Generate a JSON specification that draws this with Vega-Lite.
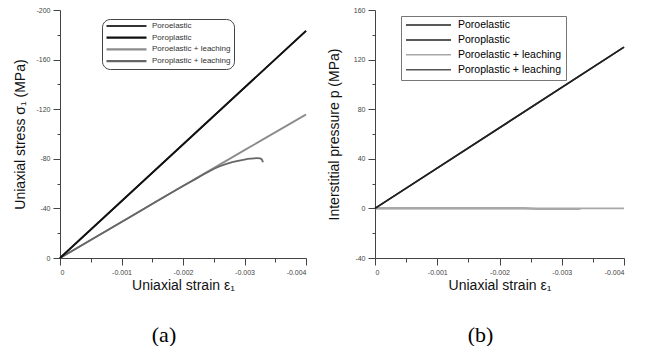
{
  "$schema": "https://vega.github.io/schema/vega-lite/v6.json",
  "background": "white",
  "padding": {"left": 13, "top": 6, "right": 0, "bottom": 0},
  "datasets": {
    "stress": [
      {"strain": 0, "value": 0, "series": "Poroelastic + leaching"},
      {"strain": -0.001, "value": -29, "series": "Poroelastic + leaching"},
      {"strain": -0.002, "value": -58, "series": "Poroelastic + leaching"},
      {"strain": -0.003, "value": -87, "series": "Poroelastic + leaching"},
      {"strain": -0.004, "value": -115.7, "series": "Poroelastic + leaching"},
      {"strain": 0, "value": 0, "series": "Poroplastic + leaching"},
      {"strain": -0.001, "value": -29, "series": "Poroplastic + leaching"},
      {"strain": -0.002, "value": -58, "series": "Poroplastic + leaching"},
      {"strain": -0.0022, "value": -63.6, "series": "Poroplastic + leaching"},
      {"strain": -0.0024, "value": -69.2, "series": "Poroplastic + leaching"},
      {"strain": -0.0026, "value": -74.0, "series": "Poroplastic + leaching"},
      {"strain": -0.0028, "value": -77.3, "series": "Poroplastic + leaching"},
      {"strain": -0.003, "value": -79.4, "series": "Poroplastic + leaching"},
      {"strain": -0.0031, "value": -80.1, "series": "Poroplastic + leaching"},
      {"strain": -0.0032, "value": -80.5, "series": "Poroplastic + leaching"},
      {"strain": -0.00325, "value": -80.4, "series": "Poroplastic + leaching"},
      {"strain": -0.00328, "value": -79.6, "series": "Poroplastic + leaching"},
      {"strain": -0.0033, "value": -77.2, "series": "Poroplastic + leaching"},
      {"strain": 0, "value": 0, "series": "Poroelastic"},
      {"strain": -0.004, "value": -183.2, "series": "Poroelastic"},
      {"strain": 0, "value": 0, "series": "Poroplastic"},
      {"strain": -0.004, "value": -183.2, "series": "Poroplastic"}
    ],
    "pressure": [
      {"strain": 0, "value": 0, "series": "Poroplastic + leaching"},
      {"strain": -0.0024, "value": 0, "series": "Poroplastic + leaching"},
      {"strain": -0.0026, "value": -0.25, "series": "Poroplastic + leaching"},
      {"strain": -0.0033, "value": -0.3, "series": "Poroplastic + leaching"},
      {"strain": 0, "value": 0, "series": "Poroelastic + leaching"},
      {"strain": -0.004, "value": 0, "series": "Poroelastic + leaching"},
      {"strain": 0, "value": 0, "series": "Poroelastic"},
      {"strain": -0.004, "value": 130, "series": "Poroelastic"},
      {"strain": 0, "value": 0, "series": "Poroplastic"},
      {"strain": -0.004, "value": 130, "series": "Poroplastic"}
    ]
  },
  "spacing": 17,
  "hconcat": [
    {
      "width": 246,
      "height": 248,
      "data": {"name": "stress"},
      "title": {"text": "(a)", "orient": "bottom", "anchor": "middle", "dx": -19, "offset": 33},
      "mark": {"type": "line", "strokeWidth": 1.8, "interpolate": "monotone"},
      "encoding": {
        "x": {
          "field": "strain", "type": "quantitative",
          "scale": {"domain": [0, -0.004], "nice": false, "zero": false},
          "axis": {
            "title": "Uniaxial strain ε₁",
            "values": [0, -0.0005, -0.001, -0.0015, -0.002, -0.0025, -0.003, -0.0035, -0.004],
            "labelExpr": "abs(datum.value*1000 - round(datum.value*1000)) > 0.01 ? '' : (datum.value == 0 ? '0' : '-' + format(abs(datum.value), '.3f'))",
            "tickSize": {"condition": {"test": "abs(datum.value*1000 - round(datum.value*1000)) > 0.01", "value": 4}, "value": 7}
          }
        },
        "y": {
          "field": "value", "type": "quantitative",
          "scale": {"domain": [0, -200], "nice": false, "zero": false},
          "axis": {
            "title": "Uniaxial stress σ₁ (MPa)",
            "titlePadding": 8,
            "values": [0, -20, -40, -60, -80, -100, -120, -140, -160, -180, -200],
            "labelExpr": "datum.value % 40 != 0 ? '' : (datum.value == 0 ? '0' : '-' + format(abs(datum.value), 'd'))",
            "tickSize": {"condition": {"test": "datum.value % 40 != 0", "value": 3}, "value": 7}
          }
        },
        "color": {
          "field": "series", "type": "nominal",
          "scale": {
            "domain": ["Poroelastic", "Poroplastic", "Poroelastic + leaching", "Poroplastic + leaching"],
            "range": ["#333333", "#111111", "#8c8c8c", "#666666"]
          },
          "legend": {
            "orient": "none", "legendX": 42, "legendY": 9,
            "title": null,
            "symbolType": "stroke", "symbolSize": 1600, "symbolStrokeWidth": 2.2,
            "clipHeight": 8, "rowPadding": 3.7,
            "labelFontSize": 8, "labelColor": "#333", "labelOffset": 4,
            "padding": 3, "strokeColor": "#444", "cornerRadius": 8, "fillColor": "white"
          }
        }
      }
    },
    {
      "width": 249,
      "height": 248,
      "data": {"name": "pressure"},
      "title": {"text": "(b)", "orient": "bottom", "anchor": "middle", "dx": -19, "offset": 33},
      "mark": {"type": "line", "strokeWidth": 1.6},
      "encoding": {
        "x": {
          "field": "strain", "type": "quantitative",
          "scale": {"domain": [0, -0.004], "nice": false, "zero": false},
          "axis": {
            "title": "Uniaxial strain ε₁",
            "values": [0, -0.0005, -0.001, -0.0015, -0.002, -0.0025, -0.003, -0.0035, -0.004],
            "labelExpr": "abs(datum.value*1000 - round(datum.value*1000)) > 0.01 ? '' : (datum.value == 0 ? '0' : '-' + format(abs(datum.value), '.3f'))",
            "tickSize": {"condition": {"test": "abs(datum.value*1000 - round(datum.value*1000)) > 0.01", "value": 4}, "value": 7}
          }
        },
        "y": {
          "field": "value", "type": "quantitative",
          "scale": {"domain": [-40, 160], "nice": false, "zero": false},
          "axis": {
            "title": "Interstitial pressure p (MPa)",
            "titlePadding": 12,
            "values": [-40, -20, 0, 20, 40, 60, 80, 100, 120, 140, 160],
            "labelExpr": "datum.value % 40 != 0 ? '' : (datum.value < 0 ? '-' + format(abs(datum.value), 'd') : format(datum.value, 'd'))",
            "tickSize": {"condition": {"test": "datum.value % 40 != 0", "value": 3}, "value": 7}
          }
        },
        "color": {
          "field": "series", "type": "nominal",
          "scale": {
            "domain": ["Poroelastic", "Poroplastic", "Poroelastic + leaching", "Poroplastic + leaching"],
            "range": ["#222222", "#222222", "#a8a8a8", "#555555"]
          },
          "legend": {
            "orient": "none", "legendX": 26, "legendY": 6,
            "title": null,
            "symbolType": "stroke", "symbolSize": 2025, "symbolStrokeWidth": 1.5,
            "clipHeight": 10, "rowPadding": 3.9,
            "labelFontSize": 10.5, "labelColor": "#000", "labelOffset": 6,
            "padding": 4, "strokeColor": "#777", "cornerRadius": 0, "fillColor": "white"
          }
        }
      }
    }
  ],
  "resolve": {"scale": {"color": "independent"}, "legend": {"color": "independent"}},
  "config": {
    "view": {"stroke": null},
    "font": "Liberation Sans",
    "axis": {
      "grid": false,
      "domainColor": "#444",
      "tickColor": "#444",
      "labelFont": "Liberation Sans",
      "labelFontSize": 7,
      "labelColor": "#444",
      "labelPadding": 3,
      "titleFont": "Liberation Sans",
      "titleFontSize": 14,
      "titleFontWeight": "normal",
      "titleColor": "#111"
    },
    "axisX": {"titlePadding": 3},
    "title": {"font": "Liberation Serif", "fontSize": 22, "fontWeight": "normal", "color": "#000"},
    "legend": {"labelFont": "Liberation Sans"}
  }
}
